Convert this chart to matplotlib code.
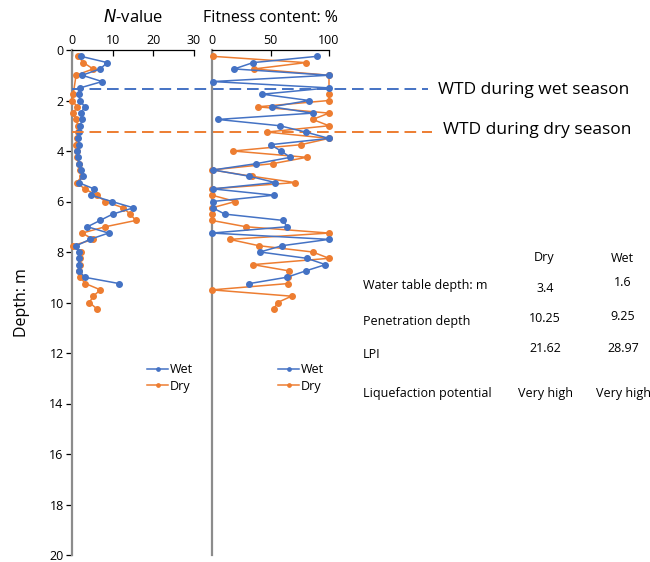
import matplotlib
matplotlib.use('Agg')
import matplotlib.pyplot as plt

plt.rcParams['font.family'] = ['Open Sans', 'DejaVu Sans']

blue = '#4472C4'
orange = '#ED7D31'

# Wet season profile
wet_depth = [0.25, 0.5, 0.75, 1.0, 1.25, 1.5, 1.75, 2.0, 2.25, 2.5, 2.75, 3.0, 3.25, 3.5, 3.75,
             4.0, 4.25, 4.5, 4.75, 5.0, 5.25, 5.5, 5.75, 6.0, 6.25, 6.5, 6.75, 7.0, 7.25, 7.5,
             7.75, 8.0, 8.25, 8.5, 8.75, 9.0, 9.25]
wet_n = [2.2, 8.7, 6.9, 2.5, 7.4, 2.0, 1.6, 2.0, 3.1, 2.2, 2.5, 2.0, 1.7, 1.5, 1.7,
         1.3, 1.5, 1.8, 2.2, 2.6, 1.6, 5.4, 4.7, 9.8, 15.1, 10.0, 6.9, 3.8, 9.0, 4.4,
         1.1, 1.6, 1.8, 1.6, 1.8, 3.1, 11.6]
wet_fc = [90, 35, 19, 100, 0.5, 100, 43, 83, 51, 86, 5, 58, 80, 100, 50,
          59, 67, 38, 1, 32, 54, 0.5, 53, 0.5, 0.5, 11, 61, 64, 0, 100,
          60, 41, 81, 97, 80, 64, 32]

# Dry season profile
dry_depth = [0.25, 0.5, 0.75, 1.0, 1.75, 2.0, 2.25, 2.5, 2.75, 3.0, 3.25, 3.5, 3.75,
             4.0, 4.25, 4.5, 4.75, 5.0, 5.25, 5.5, 5.75, 6.0, 6.25, 6.5, 6.75, 7.0, 7.25, 7.5,
             7.75, 8.0, 8.25, 8.5, 8.75, 9.0, 9.25, 9.5, 9.75, 10.0, 10.25]
dry_n = [1.5, 2.8, 5.2, 1.0, 0.3, 0.0, 1.3, 0.3, 1.0, 1.5, 1.5, 1.3, 1.0,
         1.2, 1.3, 1.6, 2.0, 2.4, 1.2, 3.1, 6.1, 8.2, 12.6, 14.3, 15.7, 8.2, 2.5, 5.2,
         0.2, 2.3, 2.0, 2.0, 1.8, 2.0, 3.3, 7.0, 5.2, 4.3, 6.1]
dry_fc = [0.5, 80, 36, 100, 100, 100, 39, 100, 86, 100, 47, 100, 76,
          18, 81, 52, 0, 34, 71, 0, 0, 20, 0, 0, 0, 29, 100, 15,
          40, 86, 100, 35, 66, 65, 65, 0, 68, 56, 53]

wtd_wet = 1.55
wtd_dry = 3.25

row_labels = ['Water table depth: m', 'Penetration depth', 'LPI', 'Liquefaction potential']
dry_vals = ['3.4', '10.25', '21.62', 'Very high']
wet_vals = ['1.6', '9.25', '28.97', 'Very high']

W, H = 650, 562
fig = plt.figure(figsize=(6.5, 5.62), dpi=100)

def fx(px):
    return px / W

def fy(py):
    return 1 - py / H

top_px, bot_px = 50, 555
ax1 = fig.add_axes([fx(72), fy(bot_px), fx(194) - fx(72), fy(top_px) - fy(bot_px)])
ax2 = fig.add_axes([fx(212), fy(bot_px), fx(329) - fx(212), fy(top_px) - fy(bot_px)])

for ax in (ax1, ax2):
    ax.set_ylim(20, 0)
    ax.patch.set_alpha(0)
    for s in ('right', 'bottom'):
        ax.spines[s].set_visible(False)
    ax.spines['left'].set_color('#8c8c8c')
    ax.spines['left'].set_linewidth(1.6)
    ax.spines['top'].set_linewidth(0.9)
    ax.xaxis.tick_top()
    ax.tick_params(axis='x', direction='in', length=4, width=0.9, labelsize=9, pad=2)

ax1.set_xlim(0, 30)
ax1.set_xticks([0, 10, 20, 30])
ax1.set_yticks(range(0, 21, 2))
ax1.tick_params(axis='y', direction='out', length=4, width=0.9, labelsize=9, pad=2)
ax1.set_ylabel('Depth: m', fontsize=11.5, labelpad=14)

ax2.set_xlim(0, 100)
ax2.set_xticks([0, 50, 100])
ax2.set_yticks([])

ax1.plot(wet_n, wet_depth, '-o', color=blue, lw=1.1, ms=4, label='Wet', clip_on=False, zorder=4)
ax1.plot(dry_n, dry_depth, '-o', color=orange, lw=1.1, ms=4, label='Dry', clip_on=False, zorder=3)
ax2.plot(wet_fc, wet_depth, '-o', color=blue, lw=1.1, ms=4, label='Wet', clip_on=False, zorder=4)
ax2.plot(dry_fc, dry_depth, '-o', color=orange, lw=1.1, ms=4, label='Dry', clip_on=False, zorder=3)

ax1.set_title('$N$-value', fontsize=12, pad=20)
ax2.set_title('Fitness content: %', fontsize=11.5, pad=20)

# water table lines
ax1.axhline(wtd_wet, xmin=0, xmax=(428 - 72) / 122, color=blue, ls=(0, (6, 3)), lw=1.4, clip_on=False, zorder=5)
ax1.axhline(wtd_dry, xmin=0, xmax=(432 - 72) / 122, color=orange, ls=(0, (6, 3)), lw=1.4, clip_on=False, zorder=5)
fig.text(fx(438), fy(90), 'WTD during wet season', fontsize=12.5, va='center', ha='left')
fig.text(fx(443), fy(130), 'WTD during dry season', fontsize=12.5, va='center', ha='left')

leg_kw = dict(frameon=False, fontsize=9, handlelength=1.7, handletextpad=0.15,
              labelspacing=0.3, borderaxespad=0, markerscale=0.6)
ax1.legend(loc='upper left', bbox_to_anchor=((142 - 72) / 122, 1 - (358 - top_px) / (bot_px - top_px)), **leg_kw)
ax2.legend(loc='upper left', bbox_to_anchor=((273 - 212) / 117, 1 - (358 - top_px) / (bot_px - top_px)), **leg_kw)

# summary table
fig.text(fx(544), fy(258), 'Dry', fontsize=9, ha='center', va='center')
fig.text(fx(622), fy(258), 'Wet', fontsize=9, ha='center', va='center')
row_y = [285, 321, 354, 394]
dry_y = [288, 318, 349, 394]
wet_y = [283, 317, 349, 394]
for lab, dv, wv, ry, dy, wy in zip(row_labels, dry_vals, wet_vals, row_y, dry_y, wet_y):
    fig.text(fx(363), fy(ry), lab, fontsize=9, ha='left', va='center')
    fig.text(fx(545), fy(dy), dv, fontsize=9, ha='center', va='center')
    fig.text(fx(623), fy(wy), wv, fontsize=9, ha='center', va='center')

fig.savefig('out.png', dpi=100)
